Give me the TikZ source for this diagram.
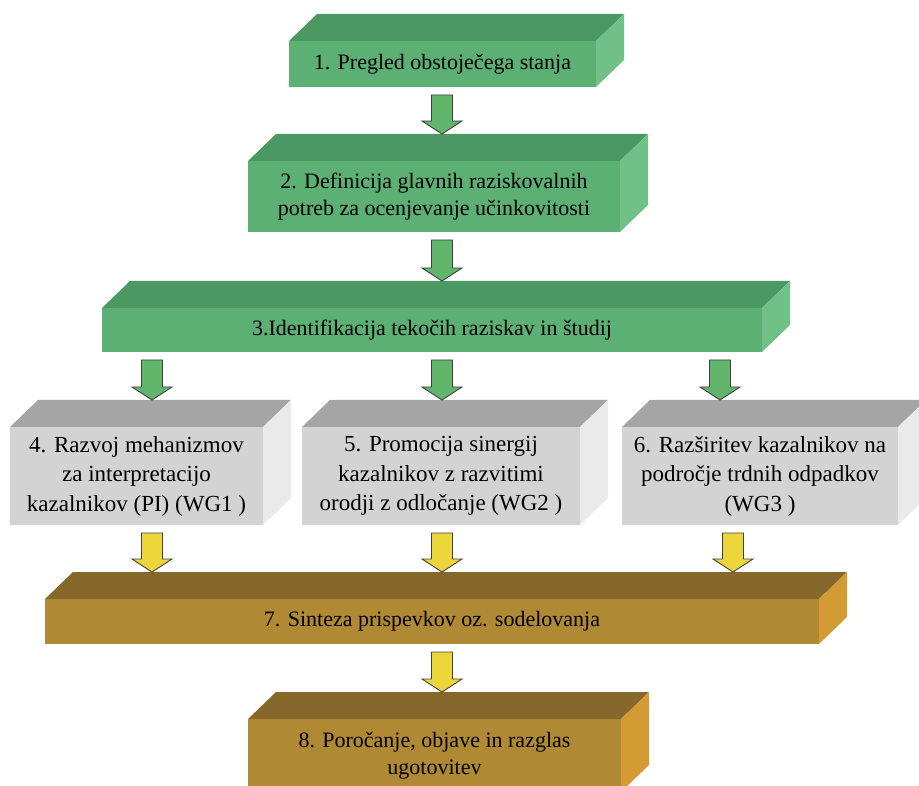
\documentclass[tikz,border=0pt]{standalone}
\usepackage{fontspec}
\setmainfont{Liberation Serif}
\newfontfamily\stagefont{Liberation Serif}
\usetikzlibrary{calc}

\definecolor{greenfront}{RGB}{92,176,116}
\definecolor{greentop}{RGB}{76,152,98}
\definecolor{greenside}{RGB}{112,192,136}
\definecolor{grayfront}{RGB}{211,211,211}
\definecolor{graytop}{RGB}{165,165,165}
\definecolor{grayside}{RGB}{234,234,234}
\definecolor{brownfront}{RGB}{176,137,52}
\definecolor{browntop}{RGB}{134,104,45}
\definecolor{brownside}{RGB}{210,155,52}
\definecolor{arrowgreen}{RGB}{98,182,108}
\definecolor{arrowyellow}{RGB}{236,214,58}

% top and right face of a block (node name, top colour, side colour)
\newcommand\boxfaces[3]{%
  \fill[#2] (#1.north west) -- ++(28pt,27pt) -- ([shift={(28pt,27pt)}]#1.north east) -- (#1.north east) -- cycle;
  \fill[#3] (#1.north east) -- ++(28pt,27pt) -- ([shift={(28pt,27pt)}]#1.south east) -- (#1.south east) -- cycle;}

% fat arrow (fill, from, to, x position)
\newcommand\flowarrow[4]{%
  \draw[arrowline, fill=#1] let \p1=(#2.south), \p2=(#3.north) in
    (#4pt-10.5pt,\y1-8pt) -- (#4pt+10.5pt,\y1-8pt) -- (#4pt+10.5pt,\y2+40pt)
    -- (#4pt+20pt,\y2+40pt) -- (#4pt,\y2+27pt) -- (#4pt-20pt,\y2+40pt)
    -- (#4pt-10.5pt,\y2+40pt) -- cycle;}

\begin{document}
\begin{tikzpicture}[x=1pt, y=-1pt,
    stage/.style={inner sep=0pt, outer sep=0pt, align=center, font=\stagefont\fontsize{22}{27}\selectfont},
    greenstage/.style={stage, fill=greenfront},
    graystage/.style={stage, fill=grayfront, font=\stagefont\fontsize{23}{29.5}\selectfont},
    brownstage/.style={stage, fill=brownfront},
    arrowline/.style={draw=black!75, line width=0.9pt, line join=miter}]
    \useasboundingbox (0,0) rectangle (919,786);

    \node[greenstage, minimum width=307pt, minimum height=46pt] (b1) at (442.5,64) {1. Pregled obstoječega stanja};
    \node[greenstage, minimum width=372pt, minimum height=71pt] (b2) at (434,196.5)
        {2. Definicija glavnih raziskovalnih\\potreb za ocenjevanje učinkovitosti};
    \node[greenstage, minimum width=660pt, minimum height=44pt] (b3) at (432,330) {3.Identifikacija tekočih raziskav in študij};
    \node[graystage, minimum width=253pt, minimum height=98pt] (b4) at (136.5,476)
        {4. Razvoj mehanizmov\\za interpretacijo\\kazalnikov (PI) (WG1 )};
    \node[graystage, minimum width=278pt, minimum height=98pt] (b5) at (441,476)
        {5. Promocija sinergij\\kazalnikov z razvitimi\\orodji z odločanje (WG2 )};
    \node[graystage, minimum width=276pt, minimum height=98pt] (b6) at (760,476)
        {6. Razširitev kazalnikov na\\področje trdnih odpadkov\\(WG3 )};
    \node[brownstage, minimum width=774pt, minimum height=45pt] (b7) at (432,621.5) {7. Sinteza prispevkov oz. sodelovanja};
    \node[brownstage, minimum width=373pt, minimum height=73pt] (b8) at (434.5,755.5)
        {8. Poročanje, objave in razglas\\ugotovitev};

    \foreach \b in {b1,b2,b3}{
        \boxfaces{\b}{greentop}{greenside}
    }
    \foreach \b in {b4,b5,b6}{
        \boxfaces{\b}{graytop}{grayside}
    }
    \foreach \b in {b7,b8}{
        \boxfaces{\b}{browntop}{brownside}
    }

    \flowarrow{arrowgreen}{b1}{b2}{442}
    \flowarrow{arrowgreen}{b2}{b3}{442}
    \flowarrow{arrowgreen}{b3}{b4}{152}
    \flowarrow{arrowgreen}{b3}{b5}{442}
    \flowarrow{arrowgreen}{b3}{b6}{720}
    \flowarrow{arrowyellow}{b4}{b7}{152}
    \flowarrow{arrowyellow}{b5}{b7}{442}
    \flowarrow{arrowyellow}{b6}{b7}{733}
    \flowarrow{arrowyellow}{b7}{b8}{442}
\end{tikzpicture}
\end{document}
